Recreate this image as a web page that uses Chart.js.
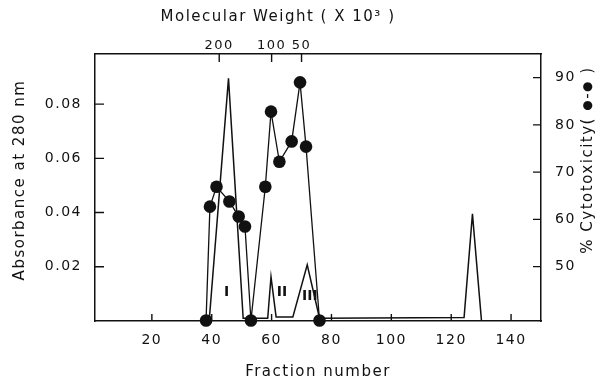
<!DOCTYPE html>
<html><head><meta charset="utf-8">
<script src="https://cdn.jsdelivr.net/npm/chart.js@4/dist/chart.umd.min.js"></script>
<style>html,body{margin:0;padding:0;background:#fff;}#wrap{width:601px;height:384px;}</style>
</head><body><div id="wrap"><canvas id="c" width="601" height="384"></canvas></div>
<script>
// ---- data ----
const fractionTicks = [20, 40, 60, 80, 100, 120, 140];
const absorbanceTicks = [0.02, 0.04, 0.06, 0.08];
const cytotoxTicks = [50, 60, 70, 80, 90];
const mwTickFractions = [42.5, 60, 70];
const mwTickLabels = ['200', '100', '50'];

const absFraction = [38, 39.2, 45.6, 50.5, 58.7, 59.8, 61.5, 67.1, 71.9, 76, 124.3, 127.1, 130.1];
const absValue    = [0, 0.0008, 0.0895, 0.001, 0.001, 0.0163, 0.0015, 0.0015, 0.0207, 0.001, 0.0013, 0.0395, 0.0003];

const cytoFraction = [38.1, 39.4, 41.6, 45.9, 49.0, 51.1, 53.1, 57.9, 59.8, 62.6, 66.7, 69.5, 71.5, 76.0];
const cytoValue    = [38.6, 62.7, 66.9, 63.8, 60.6, 58.5, 38.6, 66.9, 82.8, 72.2, 76.5, 89.0, 75.4, 38.6];

const peakLabels = ['I', 'II', 'III'];
const peakLabelFraction = [45, 63.5, 72.8];
const peakLabelAbs = [0.0105, 0.0105, 0.0092];

const xTitle = 'Fraction number';
const yTitle = 'Absorbance at 280 nm';
const y2TitleParts = ['% Cytotoxicity( ', '\u25CF', '-', '\u25CF', ' )'];
const topTitle = 'Molecular Weight ( X 10\u00B3 )';

// ---- chart ----
const FONT = 'DejaVu Sans';
const INK = '#111';

const absData = absFraction.map((f, i) => ({x: f, y: absValue[i]}));
const cytoData = cytoFraction.map((f, i) => ({x: f, y: cytoValue[i]}));

function drawParts(ctx, parts, cx, cy) {
  const fonts = parts.map(p => (p === '\u25CF' ? '12px ' : '15px ') + FONT);
  let total = 0;
  const widths = parts.map((p, i) => { ctx.font = fonts[i]; const w = ctx.measureText(p).width; total += w; return w; });
  let xx = cx - total / 2;
  ctx.textAlign = 'left';
  parts.forEach((p, i) => { ctx.font = fonts[i]; ctx.fillText(p, xx, cy); xx += widths[i]; });
}

const decorPlugin = {
  id: 'decor',
  beforeDraw(chart) { chart.ctx.letterSpacing = '1.5px'; },
  afterDraw(chart) {
    const ctx = chart.ctx;
    const {x, xTop, y, y2} = chart.scales;
    const a = chart.chartArea;
    ctx.save();
    ctx.strokeStyle = INK; ctx.lineWidth = 1.4;
    ctx.beginPath();
    fractionTicks.forEach(v => { const px = x.getPixelForValue(v); ctx.moveTo(px, a.bottom); ctx.lineTo(px, a.bottom - 7); });
    mwTickFractions.forEach(v => { const px = xTop.getPixelForValue(v); ctx.moveTo(px, a.top); ctx.lineTo(px, a.top + 8); });
    absorbanceTicks.forEach(v => { const py = y.getPixelForValue(v); ctx.moveTo(a.left, py); ctx.lineTo(a.left + 9, py); });
    cytotoxTicks.forEach(v => { const py = y2.getPixelForValue(v); ctx.moveTo(a.right, py); ctx.lineTo(a.right - 8, py); });
    ctx.stroke();

    ctx.fillStyle = INK;
    ctx.letterSpacing = '0px';
    ctx.font = 'bold 14px ' + FONT;
    ctx.textAlign = 'center'; ctx.textBaseline = 'middle';
    peakLabels.forEach((t, i) => {
      ctx.fillText(t, x.getPixelForValue(peakLabelFraction[i]), y.getPixelForValue(peakLabelAbs[i]));
    });

    ctx.letterSpacing = '1.5px';
    ctx.font = '15px ' + FONT;
    ctx.fillText(xTitle, 318, 372);
    ctx.fillText(topTitle, 278, 17);
    ctx.save(); ctx.translate(20, 180); ctx.rotate(-Math.PI / 2); ctx.fillText(yTitle, 0, 0); ctx.restore();
    ctx.save(); ctx.translate(588, 160); ctx.rotate(-Math.PI / 2); drawParts(ctx, y2TitleParts, 0, 0); ctx.restore();
    ctx.restore();
  }
};

const tickFont = {family: FONT, size: 14};
const border = {display: true, color: INK, width: 1.5};

new Chart(document.getElementById('c'), {
  type: 'scatter',
  data: {
    datasets: [
      {label: 'Absorbance', data: absData, xAxisID: 'x', yAxisID: 'y', showLine: true,
       borderColor: INK, borderWidth: 1.5, pointRadius: 0, tension: 0, clip: false},
      {label: 'Cytotoxicity', data: cytoData, xAxisID: 'x', yAxisID: 'y2', showLine: true,
       borderColor: INK, borderWidth: 1.3, pointRadius: 6.3, pointBackgroundColor: INK,
       pointBorderWidth: 0, tension: 0, clip: false}
    ]
  },
  options: {
    responsive: false, animation: false, devicePixelRatio: 1,
    layout: {padding: 0},
    plugins: {legend: {display: false}, tooltip: {enabled: false}},
    scales: {
      x: {type: 'linear', position: 'bottom', min: 1, max: 150,
          afterBuildTicks(s) { s.ticks = fractionTicks.map(v => ({value: v})); },
          afterFit(s) { s.height = 63; },
          grid: {display: true, drawOnChartArea: false, drawTicks: false},
          border: border,
          ticks: {font: tickFont, color: INK, padding: 11, maxRotation: 0, autoSkip: false}},
      xTop: {type: 'linear', position: 'top', min: 1, max: 150,
          afterBuildTicks(s) { s.ticks = mwTickFractions.map(v => ({value: v})); },
          afterFit(s) { s.height = 54; },
          grid: {display: true, drawOnChartArea: false, drawTicks: false},
          border: border,
          ticks: {font: {family: FONT, size: 13}, color: INK, padding: 1, maxRotation: 0, autoSkip: false,
                  callback: (v) => { const i = mwTickFractions.indexOf(v); return i >= 0 ? mwTickLabels[i] : ''; }}},
      y: {type: 'linear', position: 'left', min: 0, max: 0.0985,
          afterBuildTicks(s) { s.ticks = absorbanceTicks.map(v => ({value: v})); },
          afterFit(s) { s.width = 95; },
          grid: {display: true, drawOnChartArea: false, drawTicks: false},
          border: border,
          ticks: {font: tickFont, color: INK, padding: 13, callback: v => v.toFixed(2)}},
      y2: {type: 'linear', position: 'right', min: 38.5, max: 95,
          afterBuildTicks(s) { s.ticks = cytotoxTicks.map(v => ({value: v})); },
          afterFit(s) { s.width = 60; },
          grid: {display: true, drawOnChartArea: false, drawTicks: false},
          border: border,
          ticks: {font: tickFont, color: INK, padding: 14}}
    }
  },
  plugins: [decorPlugin]
});
</script></body></html>
